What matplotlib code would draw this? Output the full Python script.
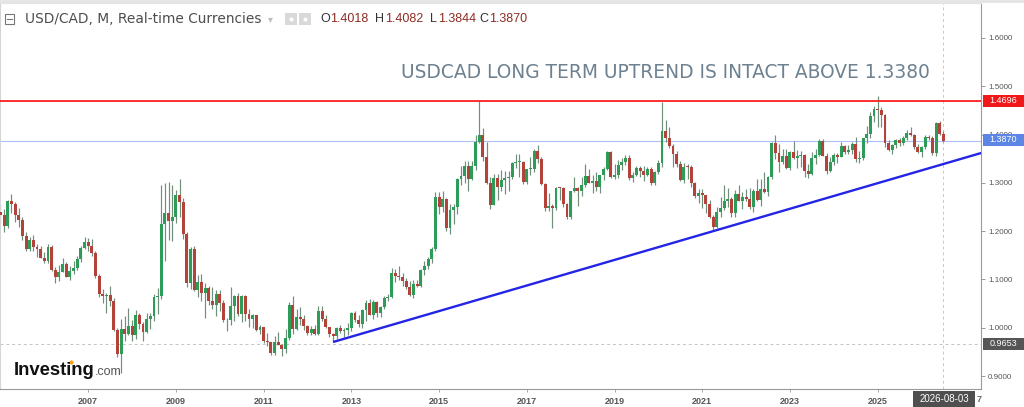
import numpy as np
import matplotlib
matplotlib.use("Agg")
from matplotlib import pyplot as plt
from matplotlib.patches import Rectangle

plt.rcParams['font.family'] = ['Liberation Sans', 'DejaVu Sans']

# monthly USD/CAD candles, Jan 2005 .. Aug 2026 (one row per year)
opens = [
    1.2020, 1.2397, 1.2335, 1.2096, 1.2620, 1.2570, 1.2330, 1.2240, 1.1900, 1.1620, 1.1810, 1.1670,
    1.1630, 1.1440, 1.1380, 1.1670, 1.1190, 1.1050, 1.1160, 1.1310, 1.1060, 1.1170, 1.1230, 1.1430,
    1.1650, 1.1780, 1.1700, 1.1540, 1.1080, 1.0690, 1.0650, 1.0670, 1.0560, 0.9960, 0.9460, 0.9980,
    0.9880, 1.0030, 0.9840, 1.0270, 1.0070, 0.9910, 1.0180, 1.0240, 1.0630, 1.0650, 1.2140, 1.2380,
    1.2200, 1.2300, 1.2740, 1.2610, 1.1930, 1.0920, 1.1630, 1.0780, 1.0950, 1.0710, 1.0820, 1.0560,
    1.0460, 1.0690, 1.0520, 1.0150, 1.0160, 1.0440, 1.0650, 1.0290, 1.0660, 1.0290, 1.0190, 1.0260,
    0.9960, 1.0010, 0.9720, 0.9700, 0.9470, 0.9700, 0.9650, 0.9550, 0.9790, 1.0480, 0.9970, 1.0220,
    1.0180, 1.0030, 0.9890, 0.9980, 0.9880, 1.0340, 1.0180, 1.0020, 0.9860, 0.9830, 0.9990, 0.9930,
    0.9950, 0.9990, 1.0300, 1.0160, 1.0080, 1.0370, 1.0520, 1.0270, 1.0530, 1.0300, 1.0430, 1.0620,
    1.0630, 1.1140, 1.1070, 1.1050, 1.0960, 1.0850, 1.0670, 1.0900, 1.0870, 1.1200, 1.1270, 1.1430,
    1.1620, 1.2700, 1.2500, 1.2670, 1.2070, 1.2440, 1.2490, 1.3080, 1.3150, 1.3340, 1.3080, 1.3350,
    1.3840, 1.4000, 1.3530, 1.2990, 1.2550, 1.3100, 1.2920, 1.3060, 1.3110, 1.3120, 1.3410, 1.3430,
    1.3440, 1.3010, 1.3280, 1.3290, 1.3650, 1.3500, 1.2970, 1.2470, 1.2520, 1.2480, 1.2900, 1.2890,
    1.2560, 1.2300, 1.2830, 1.2890, 1.2840, 1.2950, 1.3150, 1.3000, 1.3040, 1.2910, 1.3160, 1.3290,
    1.3640, 1.3130, 1.3160, 1.3360, 1.3430, 1.3520, 1.3100, 1.3170, 1.3310, 1.3240, 1.3170, 1.3280,
    1.2990, 1.3230, 1.3420, 1.4070, 1.3930, 1.3770, 1.3600, 1.3380, 1.3050, 1.3330, 1.3320, 1.2990,
    1.2730, 1.2790, 1.2740, 1.2570, 1.2290, 1.2080, 1.2390, 1.2480, 1.2620, 1.2670, 1.2380, 1.2770,
    1.2630, 1.2710, 1.2670, 1.2500, 1.2840, 1.2650, 1.2880, 1.2810, 1.3130, 1.3820, 1.3610, 1.3430,
    1.3550, 1.3310, 1.3640, 1.3510, 1.3550, 1.3580, 1.3240, 1.3180, 1.3510, 1.3580, 1.3870, 1.3560,
    1.3250, 1.3430, 1.3570, 1.3540, 1.3770, 1.3630, 1.3670, 1.3800, 1.3490, 1.3520, 1.3930, 1.4010,
    1.4380, 1.4530, 1.4500, 1.4400, 1.3817, 1.3680, 1.3783, 1.3886, 1.3820, 1.3921, 1.4040, 1.3990,
    1.3748, 1.3640, 1.3748, 1.3955, 1.3921, 1.3611, 1.4232, 1.4018,
]
highs = [
    1.2440, 1.2560, 1.2460, 1.2650, 1.2775, 1.2600, 1.2480, 1.2300, 1.1980, 1.1880, 1.1920, 1.1740,
    1.1700, 1.1560, 1.1730, 1.1720, 1.1250, 1.1300, 1.1440, 1.1360, 1.1270, 1.1390, 1.1480, 1.1700,
    1.1880, 1.1850, 1.1830, 1.1580, 1.1120, 1.0810, 1.0720, 1.0870, 1.0620, 0.9990, 1.0190, 1.0250,
    1.0400, 1.0160, 1.0370, 1.0300, 1.0120, 1.0310, 1.0300, 1.0700, 1.0820, 1.2950, 1.2990, 1.3020,
    1.2950, 1.2850, 1.3070, 1.2690, 1.1980, 1.1680, 1.1690, 1.1100, 1.1120, 1.0920, 1.0870, 1.0840,
    1.0780, 1.0790, 1.0570, 1.0200, 1.0850, 1.0680, 1.0710, 1.0680, 1.0680, 1.0380, 1.0280, 1.0270,
    1.0060, 1.0020, 0.9900, 0.9700, 0.9830, 0.9920, 0.9660, 0.9980, 1.0530, 1.0660, 1.0380, 1.0420,
    1.0260, 1.0050, 1.0040, 1.0060, 1.0440, 1.0450, 1.0270, 1.0020, 0.9890, 1.0010, 1.0060, 0.9990,
    1.0090, 1.0320, 1.0340, 1.0260, 1.0380, 1.0580, 1.0590, 1.0570, 1.0560, 1.0450, 1.0660, 1.0700,
    1.1230, 1.1220, 1.1280, 1.1140, 1.1030, 1.0960, 1.0990, 1.0990, 1.1210, 1.1390, 1.1470, 1.1680,
    1.2800, 1.2800, 1.2830, 1.2680, 1.2560, 1.2560, 1.3100, 1.3350, 1.3460, 1.3460, 1.3460, 1.3990,
    1.4696, 1.4130, 1.3850, 1.3120, 1.3190, 1.3190, 1.3260, 1.3250, 1.3240, 1.3440, 1.3590, 1.3600,
    1.3460, 1.3280, 1.3540, 1.3690, 1.3790, 1.3540, 1.3000, 1.2780, 1.2560, 1.2920, 1.2920, 1.2920,
    1.2590, 1.2840, 1.3130, 1.2920, 1.3120, 1.3390, 1.3290, 1.3170, 1.3230, 1.3170, 1.3320, 1.3660,
    1.3660, 1.3380, 1.3470, 1.3520, 1.3570, 1.3570, 1.3230, 1.3340, 1.3340, 1.3350, 1.3330, 1.3330,
    1.3240, 1.3470, 1.4670, 1.4300, 1.4150, 1.3810, 1.3650, 1.3450, 1.3420, 1.3390, 1.3370, 1.3010,
    1.2880, 1.2880, 1.2750, 1.2650, 1.2330, 1.2490, 1.2710, 1.2950, 1.2900, 1.2700, 1.2850, 1.2960,
    1.2810, 1.2880, 1.2900, 1.2880, 1.3080, 1.3080, 1.3220, 1.3140, 1.3840, 1.3980, 1.3810, 1.3700,
    1.3690, 1.3660, 1.3860, 1.3670, 1.3650, 1.3590, 1.3390, 1.3640, 1.3690, 1.3900, 1.3900, 1.3620,
    1.3540, 1.3610, 1.3610, 1.3850, 1.3780, 1.3790, 1.3850, 1.3950, 1.3650, 1.3930, 1.4180, 1.4470,
    1.4600, 1.4793, 1.4560, 1.4420, 1.3880, 1.3800, 1.3900, 1.3930, 1.3960, 1.4090, 1.4162, 1.4020,
    1.3800, 1.3760, 1.3990, 1.4000, 1.3960, 1.4250, 1.4270, 1.4082,
]
lows = [
    1.2000, 1.2150, 1.1990, 1.2060, 1.2370, 1.2190, 1.2080, 1.1820, 1.1590, 1.1580, 1.1580, 1.1470,
    1.1440, 1.1350, 1.1340, 1.1180, 1.0930, 1.0960, 1.1150, 1.1050, 1.0990, 1.1110, 1.1200, 1.1370,
    1.1630, 1.1580, 1.1480, 1.1030, 1.0640, 1.0510, 1.0300, 1.0450, 0.9940, 0.9400, 0.9060, 0.9720,
    0.9850, 0.9720, 0.9770, 0.9980, 0.9730, 0.9890, 0.9980, 1.0140, 1.0290, 1.0600, 1.1390, 1.1820,
    1.1800, 1.2170, 1.2300, 1.1840, 1.0850, 1.0800, 1.0770, 1.0630, 1.0560, 1.0210, 1.0480, 1.0380,
    1.0250, 1.0350, 1.0110, 0.9930, 1.0050, 1.0130, 1.0250, 1.0110, 1.0140, 1.0020, 1.0000, 0.9930,
    0.9860, 0.9690, 0.9630, 0.9430, 0.9440, 0.9640, 0.9410, 0.9480, 0.9740, 0.9880, 0.9950, 1.0060,
    0.9950, 0.9850, 0.9840, 0.9840, 0.9850, 1.0140, 0.9990, 0.9800, 0.9700, 0.9770, 0.9900, 0.9810,
    0.9840, 0.9930, 1.0110, 1.0010, 1.0000, 1.0130, 1.0260, 1.0180, 1.0220, 1.0230, 1.0390, 1.0550,
    1.0620, 1.0950, 1.0990, 1.0860, 1.0810, 1.0660, 1.0620, 1.0840, 1.0840, 1.1090, 1.1210, 1.1350,
    1.1580, 1.2360, 1.2400, 1.2000, 1.1950, 1.2150, 1.2350, 1.2950, 1.3000, 1.2830, 1.3050, 1.3270,
    1.3820, 1.3460, 1.2970, 1.2460, 1.2540, 1.2650, 1.2830, 1.2770, 1.2840, 1.3080, 1.3300, 1.3120,
    1.2970, 1.2970, 1.3170, 1.3220, 1.3410, 1.2960, 1.2410, 1.2420, 1.2060, 1.2430, 1.2650, 1.2500,
    1.2250, 1.2250, 1.2820, 1.2530, 1.2730, 1.2910, 1.2990, 1.2780, 1.2840, 1.2790, 1.3050, 1.3270,
    1.3100, 1.3070, 1.3100, 1.3270, 1.3370, 1.3050, 1.3020, 1.3150, 1.3130, 1.3040, 1.3150, 1.2950,
    1.2950, 1.3180, 1.3330, 1.3850, 1.3720, 1.3320, 1.3330, 1.3030, 1.3000, 1.3080, 1.2920, 1.2690,
    1.2590, 1.2470, 1.2370, 1.2270, 1.2010, 1.2060, 1.2300, 1.2430, 1.2500, 1.2290, 1.2290, 1.2620,
    1.2450, 1.2630, 1.2460, 1.2400, 1.2620, 1.2520, 1.2780, 1.2730, 1.3080, 1.3500, 1.3230, 1.3380,
    1.3280, 1.3270, 1.3500, 1.3300, 1.3320, 1.3120, 1.3090, 1.3160, 1.3380, 1.3560, 1.3560, 1.3180,
    1.3230, 1.3370, 1.3420, 1.3530, 1.3590, 1.3590, 1.3590, 1.3440, 1.3420, 1.3470, 1.3820, 1.3930,
    1.4260, 1.4150, 1.4150, 1.3750, 1.3650, 1.3590, 1.3720, 1.3760, 1.3790, 1.3880, 1.3960, 1.3700,
    1.3620, 1.3541, 1.3700, 1.3880, 1.3580, 1.3560, 1.3980, 1.3844,
]
closes = [
    1.2397, 1.2335, 1.2096, 1.2620, 1.2570, 1.2330, 1.2240, 1.1900, 1.1620, 1.1810, 1.1670, 1.1630,
    1.1440, 1.1380, 1.1670, 1.1190, 1.1050, 1.1160, 1.1310, 1.1060, 1.1170, 1.1230, 1.1430, 1.1650,
    1.1780, 1.1700, 1.1540, 1.1080, 1.0690, 1.0650, 1.0670, 1.0560, 0.9960, 0.9460, 0.9980, 0.9880,
    1.0030, 0.9840, 1.0270, 1.0070, 0.9910, 1.0180, 1.0240, 1.0630, 1.0650, 1.2140, 1.2380, 1.2200,
    1.2300, 1.2740, 1.2610, 1.1930, 1.0920, 1.1630, 1.0780, 1.0950, 1.0710, 1.0820, 1.0560, 1.0460,
    1.0690, 1.0520, 1.0150, 1.0160, 1.0440, 1.0650, 1.0290, 1.0660, 1.0290, 1.0190, 1.0260, 0.9960,
    1.0010, 0.9720, 0.9700, 0.9470, 0.9700, 0.9650, 0.9550, 0.9790, 1.0480, 0.9970, 1.0220, 1.0180,
    1.0030, 0.9890, 0.9980, 0.9880, 1.0340, 1.0180, 1.0020, 0.9860, 0.9830, 0.9990, 0.9930, 0.9950,
    0.9990, 1.0300, 1.0160, 1.0080, 1.0370, 1.0520, 1.0270, 1.0530, 1.0300, 1.0430, 1.0620, 1.0630,
    1.1140, 1.1070, 1.1050, 1.0960, 1.0850, 1.0670, 1.0900, 1.0870, 1.1200, 1.1270, 1.1430, 1.1620,
    1.2700, 1.2500, 1.2670, 1.2070, 1.2440, 1.2490, 1.3080, 1.3150, 1.3340, 1.3080, 1.3350, 1.3840,
    1.4000, 1.3530, 1.2990, 1.2550, 1.3100, 1.2920, 1.3060, 1.3110, 1.3120, 1.3410, 1.3430, 1.3440,
    1.3010, 1.3280, 1.3290, 1.3650, 1.3500, 1.2970, 1.2470, 1.2520, 1.2480, 1.2900, 1.2890, 1.2560,
    1.2300, 1.2830, 1.2890, 1.2840, 1.2950, 1.3150, 1.3000, 1.3040, 1.2910, 1.3160, 1.3290, 1.3640,
    1.3130, 1.3160, 1.3360, 1.3430, 1.3520, 1.3100, 1.3170, 1.3310, 1.3240, 1.3170, 1.3280, 1.2990,
    1.3230, 1.3420, 1.4070, 1.3930, 1.3770, 1.3600, 1.3380, 1.3050, 1.3330, 1.3320, 1.2990, 1.2730,
    1.2790, 1.2740, 1.2570, 1.2290, 1.2080, 1.2390, 1.2480, 1.2620, 1.2670, 1.2380, 1.2770, 1.2630,
    1.2710, 1.2670, 1.2500, 1.2840, 1.2650, 1.2880, 1.2810, 1.3130, 1.3820, 1.3610, 1.3430, 1.3550,
    1.3310, 1.3640, 1.3510, 1.3550, 1.3580, 1.3240, 1.3180, 1.3510, 1.3580, 1.3870, 1.3560, 1.3250,
    1.3430, 1.3570, 1.3540, 1.3770, 1.3630, 1.3670, 1.3800, 1.3490, 1.3520, 1.3930, 1.4010, 1.4380,
    1.4530, 1.4500, 1.4400, 1.3817, 1.3680, 1.3783, 1.3886, 1.3820, 1.3921, 1.4040, 1.3990, 1.3748,
    1.3640, 1.3748, 1.3955, 1.3921, 1.3611, 1.4232, 1.4018, 1.3870,
]

years = ['2007', '2009', '2011', '2013', '2015', '2017', '2019', '2021', '2023', '2025']
price_ticks = [0.9, 1.0, 1.1, 1.2, 1.3, 1.4, 1.5, 1.6]

resistance = 1.4696
last_close = 1.3870
cursor_price = 0.9653
cursor_label = '2026-08-03'
# trend line: month index / price of its two ends
trend_idx = [92.0, 269.3]
trend_px = [0.9704, 1.3617]

title = 'USDCAD LONG TERM UPTREND IS INTACT ABOVE 1.3380'
ohlc = [('O', '1.4018'), ('H', '1.4082'), ('L', '1.3844'), ('C', '1.3870')]

W, H = 1024, 407


def fx(x):
    return x / W


def fy(y):
    return 1 - y / H


fig = plt.figure(figsize=(W / 100, H / 100), dpi=100)
fig.patch.set_facecolor('white')

ax = fig.add_axes([0, fy(389), fx(981), (389 - 3) / H])
ax.set_facecolor('white')

o = np.array(opens)
c = np.array(closes)
hi = np.array(highs)
lo = np.array(lows)
idx = np.arange(len(c))
up = c >= o

green = '#2c9c58'
red = '#b3423a'
wick = '#6f8f7b'

ax.vlines(idx, lo, hi, color=wick, lw=0.85, zorder=2)
body_lo = np.minimum(o, c)
body_h = np.maximum(np.abs(c - o), 0.0018)
ax.bar(idx[up], body_h[up], bottom=body_lo[up], width=0.8, color=green, lw=0, zorder=3)
ax.bar(idx[~up], body_h[~up], bottom=body_lo[~up], width=0.8, color=red, lw=0, zorder=3)

ax.axhline(resistance, color='#ff1f1f', lw=1.3, zorder=4)
ax.axhline(last_close, color='#aebff5', lw=0.8, zorder=1)
ax.axhline(cursor_price, color='#c4c4c4', lw=0.7, ls=(0, (3, 3)), zorder=1)
ax.axvline(idx[-1], color='#c8c8c8', lw=0.7, ls=(0, (3, 3)), zorder=1)
ax.plot(trend_idx, trend_px, color='#2424e6', lw=1.7, zorder=5, solid_capstyle='butt')

ax.set_xlim(0.875, 269.27)
ax.set_ylim(0.8731, 1.6723)

ax.yaxis.tick_right()
ax.set_yticks(price_ticks)
ax.set_yticklabels(['%.4f' % v for v in price_ticks])
ax.tick_params(axis='y', length=3, width=0.6, color='#8a8a8a', labelsize=5.8,
               labelcolor='#555555', pad=2)

ax.set_xticks([(int(y) - 2005) * 12 + 1 for y in years])
ax.set_xticklabels(years)
ax.tick_params(axis='x', length=2, width=0.6, color='#999999', labelsize=6.5,
               labelcolor='#555555', pad=3.5)
for t in ax.get_xticklabels():
    t.set_fontweight('bold')

ax.spines['top'].set_color('#e3e3e3')
ax.spines['left'].set_color('#d5d5d5')
ax.spines['right'].set_color('#9a9a9a')
ax.spines['bottom'].set_color('#9a9a9a')
for s in ax.spines.values():
    s.set_linewidth(0.8)


def price_y(p):
    return 3 + (1.6723 - p) * 483


def tag(y_center, text, color, x0=983, x1=1024, hgt=12, size=6.5):
    fig.add_artist(Rectangle((fx(x0), fy(y_center + hgt / 2)), (x1 - x0) / W, hgt / H,
                             transform=fig.transFigure, fc=color, ec='none', zorder=10))
    fig.text(fx((x0 + x1) / 2), fy(y_center), text, color='white', fontsize=size,
             ha='center', va='center', zorder=11)


tag(price_y(resistance), '1.4696', '#f01818')
tag(139.5, '1.3870', '#5b86e5')
tag(343.5, '0.9653', '#555555')
tag(399, cursor_label, '#4f4f4f', x0=913, x1=975, hgt=16, size=7)
fig.text(fx(977), fy(400), '7', color='#666666', fontsize=6.5, fontweight='bold',
         ha='left', va='center')

# header
fig.add_artist(plt.Line2D([0, 1], [fy(1), fy(1)], transform=fig.transFigure,
                          color='#e4e4e4', lw=2))
fig.add_artist(Rectangle((fx(5), fy(24)), 9 / W, 10 / H, transform=fig.transFigure,
                         fc='none', ec='#777777', lw=0.8))
fig.add_artist(plt.Line2D([fx(7), fx(12)], [fy(19), fy(19)], transform=fig.transFigure,
                          color='#777777', lw=0.8))
fig.text(fx(25), fy(19), 'USD/CAD, M, Real-time Currencies', family='DejaVu Sans',
         fontsize=9.9, color='#4d4d4d', ha='left', va='center')
fig.text(fx(268), fy(19), '\u25be', family='DejaVu Sans', fontsize=7, color='#bdbdbd',
         ha='left', va='center')
for x0 in (285, 299):
    fig.add_artist(Rectangle((fx(x0), fy(25)), 12 / W, 12 / H, transform=fig.transFigure,
                             fc='#d9d9d9', ec='none'))
    fig.add_artist(plt.Line2D([fx(x0 + 6)], [fy(19)], transform=fig.transFigure,
                              marker='o', ms=4, mfc='white', mec='#d9d9d9', ls=''))
for x0, off, (k, v) in zip((320, 375, 430, 479), (10, 10, 8, 10), ohlc):
    fig.text(fx(x0), fy(19), k, fontsize=9, color='#333333', ha='left', va='center')
    fig.text(fx(x0 + off), fy(19), v, fontsize=9, color='#8e2b22', ha='left', va='center')

fig.text(fx(401), fy(72), title, family='DejaVu Sans', fontsize=13.4, color='#6d8190',
         ha='left', va='center')

# watermark
fig.text(fx(14), fy(375), 'Investing', fontsize=13.3, fontweight='bold', color='#111111',
         ha='left', va='baseline')
fig.text(fx(95), fy(375), '.com', fontsize=9, color='#555555', ha='left', va='baseline')
fig.add_artist(plt.Line2D([fx(70.5)], [fy(362)], transform=fig.transFigure, marker='o',
                          ms=3.6, mfc='#f7a21b', mec='white', mew=0.5, ls=''))

fig.savefig('out.png', dpi=100, facecolor='white')
